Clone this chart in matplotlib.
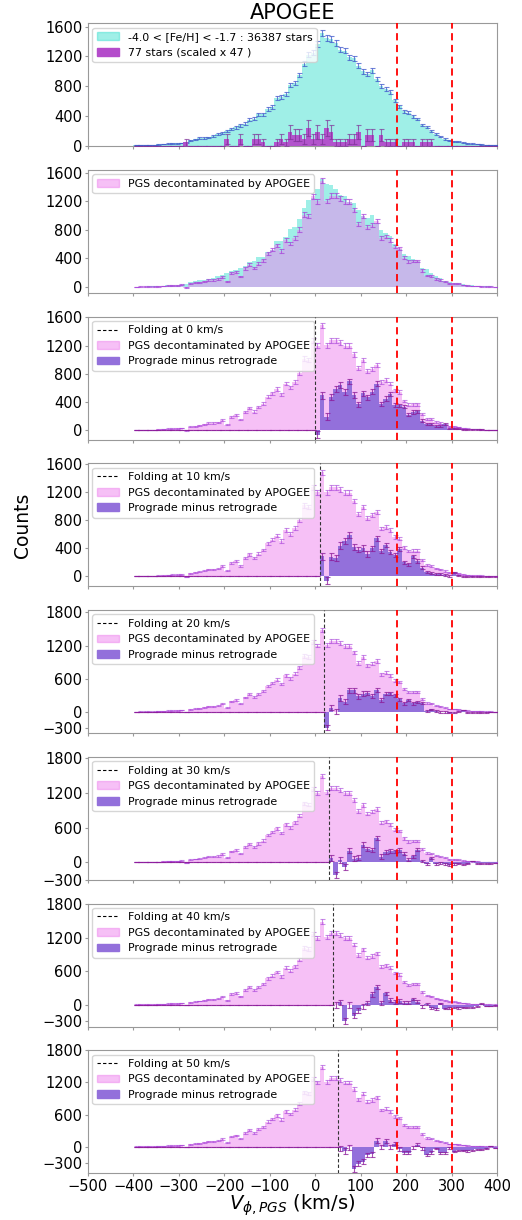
import numpy as np
import matplotlib
matplotlib.use("Agg")
import matplotlib.pyplot as plt
from matplotlib.patches import Patch
from matplotlib.lines import Line2D

# ---------------- data ----------------
bin_edges = np.arange(-400, 401, 10)
bin_centers = 0.5 * (bin_edges[:-1] + bin_edges[1:])

# APOGEE  -4.0 < [Fe/H] < -1.7 histogram (counts per 10 km/s bin)
apogee_counts = [5, 5, 5, 8, 10, 15, 20, 25, 28, 30,
                 35, 45, 70, 85, 100, 105, 110, 125, 150, 165,
                 190, 220, 245, 270, 295, 349, 362, 420, 420, 492,
                 519, 640, 649, 697, 818, 840, 952, 1100, 1225, 1252,
                 1368, 1511, 1444, 1431, 1377, 1288, 1279, 1190, 1176, 1073,
                 997, 962, 1011, 895, 796, 760, 716, 608, 528, 461,
                 439, 394, 358, 273, 246, 200, 150, 120, 90, 70,
                 60, 50, 40, 30, 25, 20, 15, 10, 8, 5]
apogee_total = 36387

# 77 stars, number per bin (scaled by 47 when drawn)
small_sample_n = [0, 0, 0, 0, 0, 0, 0, 0, 0, 0,
                  0, 1, 0, 0, 0, 0, 0, 0, 0, 0,
                  2, 0, 0, 2, 0, 0, 2, 2, 1, 0,
                  0, 1, 2, 1, 4, 3, 3, 2, 5, 2,
                  4, 2, 5, 4, 1, 1, 1, 2, 2, 4,
                  0, 3, 3, 0, 3, 1, 1, 1, 0, 1,
                  1, 1, 0, 1, 1, 1, 0, 0, 0, 0,
                  0, 0, 0, 0, 0, 0, 0, 0, 0, 0]
small_total = 77
scale_factor = 47

# PGS decontaminated by APOGEE
pgs_counts = [3, 5, 5, 5, 5, 10, 15, 20, 22, 25,
              30, -8, 45, 57, 66, 80, 100, 100, 109, 145,
              78, 190, 213, 148, 260, 315, 262, 325, 376, 470,
              521, 583, 505, 660, 607, 687, 805, 1015, 995, 1270,
              1200, 1488, 1204, 1275, 1275, 1245, 1195, 1195, 1076, 886,
              991, 839, 872, 920, 683, 706, 659, 564, 540, 412,
              360, 365, 365, 232, 161, 152, 114, 100, 76, 52,
              52, 43, 28, 20, 15, 15, 10, 5, 5, 3]

folds = [0, 10, 20, 30, 40, 50]
red_lines = [180, 300]

title = "APOGEE"
xticks = list(range(-500, 401, 100))
ylims = [(-10, 1645), (-84, 1638), (-137, 1610), (-144, 1614),
         (-385, 1842), (-300, 1817), (-390, 1810), (-494, 1800)]
yticks_a = [0, 400, 800, 1200, 1600]
yticks_b = [-300, 0, 600, 1200, 1800]

# ---------------- figure ----------------
plt.rcParams['font.family'] = ['DejaVu Sans']
W, H = 522, 1220
fig = plt.figure(figsize=(W / 100, H / 100), dpi=100)

apogee = np.array(apogee_counts, float)
pgs = np.array(pgs_counts, float)
small = np.array(small_sample_n, float)

turq = (64/255, 224/255, 208/255, 0.5)
pink = (238/255, 130/255, 238/255, 0.5)
prog = '#9370DB'
small_col = '#B44CCB'
spine_col = '#999999'

left, right = 88, 497
top0, step, height = 23.3, 146.7, 123.0

def make_ax(i):
    t = top0 + step * i
    return fig.add_axes([left / W, 1 - (t + height) / H, (right - left) / W, height / H])

def style(ax, i):
    ax.set_xlim(-500, 400)
    ax.set_ylim(*ylims[i])
    ax.set_xticks(xticks)
    ax.set_yticks(yticks_a if i < 4 else yticks_b)
    for s in ax.spines.values():
        s.set_color(spine_col)
    ax.tick_params(axis='both', colors=spine_col, labelcolor='black', labelsize=10.5,
                   length=2.5, width=0.8, pad=1.5)
    if i < 7:
        ax.tick_params(labelbottom=False)
    for xv in red_lines:
        ax.axvline(xv, color='red', ls='--', lw=1.3, dashes=(4, 2.5), zorder=6)

def fold_hist(h, f):
    p = np.zeros_like(h)
    e = np.zeros_like(h)
    for k, c in enumerate(bin_centers):
        if c > f:
            m = 2 * f - c
            j = np.where(np.isclose(bin_centers, m))[0]
            r = h[j[0]] if len(j) else 0.0
            p[k] = h[k] - r
            e[k] = np.sqrt(abs(h[k]) + abs(r))
    return p, e

ekw = dict(fmt='none', capsize=1.8, elinewidth=0.8, capthick=0.8)
lfs = 7.9

# Panel 1
ax = make_ax(0)
ax.bar(bin_centers, apogee, width=10, color=turq, lw=0, zorder=2)
ax.errorbar(bin_centers, apogee, yerr=np.sqrt(apogee), ecolor=(0.25, 0.35, 0.8, 0.75), zorder=3, **ekw)
ax.bar(bin_centers, small * scale_factor, width=10, color=small_col, alpha=0.95, lw=0, zorder=4)
ax.errorbar(bin_centers, small * scale_factor, yerr=np.sqrt(small) * scale_factor,
            ecolor=(0.5, 0.2, 0.6, 0.7), zorder=5, **ekw)
style(ax, 0)
ax.legend(handles=[Patch(color=turq, label='-4.0 < [Fe/H] < -1.7 : %d stars' % apogee_total),
                   Patch(color=small_col, label='%d stars (scaled x %d )' % (small_total, scale_factor))],
          loc='upper left', fontsize=lfs, framealpha=0.8, borderaxespad=0.4)
ax.set_title(title, fontsize=15, pad=2)

# Panel 2
ax = make_ax(1)
ax.bar(bin_centers, apogee, width=10, color=turq, lw=0, zorder=2)
ax.bar(bin_centers, pgs, width=10, color=pink, lw=0, zorder=3)
ax.errorbar(bin_centers, pgs, yerr=np.sqrt(np.abs(pgs)), ecolor=(0.65, 0.25, 0.85, 0.7), zorder=4, **ekw)
style(ax, 1)
ax.legend(handles=[Patch(color=pink, label='PGS decontaminated by APOGEE')],
          loc='upper left', fontsize=lfs, framealpha=0.8, borderaxespad=0.4)

# Folding panels
for n, f in enumerate(folds):
    i = n + 2
    ax = make_ax(i)
    ax.bar(bin_centers, pgs, width=10, color=pink, lw=0, zorder=2)
    ax.errorbar(bin_centers, pgs, yerr=np.sqrt(np.abs(pgs)), ecolor=(0.65, 0.25, 0.85, 0.6), zorder=3, **ekw)
    p, e = fold_hist(pgs, f)
    ax.bar(bin_centers, p, width=10, color=prog, lw=0, zorder=4)
    ax.errorbar(bin_centers, p, yerr=e, ecolor=(0.55, 0.1, 0.6, 0.75), zorder=5, **ekw)
    ax.axvline(f, color='#333333', ls='--', lw=0.8, dashes=(3, 2), zorder=6)
    style(ax, i)
    ax.legend(handles=[Line2D([], [], color='black', ls='--', lw=0.8, dashes=(3, 2),
                              label='Folding at %d km/s' % f),
                       Patch(color=pink, label='PGS decontaminated by APOGEE'),
                       Patch(color=prog, label='Prograde minus retrograde')],
              loc='upper left', fontsize=lfs, framealpha=0.8, borderaxespad=0.4)
    if i == 3:
        ax.set_ylabel('Counts', fontsize=13.5)
        ax.yaxis.set_label_coords(-0.137, 0.5)
    if i == 7:
        ax.set_xlabel(r'$V_{\phi,PGS}$ (km/s)', fontsize=14)
        ax.xaxis.set_label_coords(0.5, -0.155)

fig.savefig('out.png', dpi=100)
